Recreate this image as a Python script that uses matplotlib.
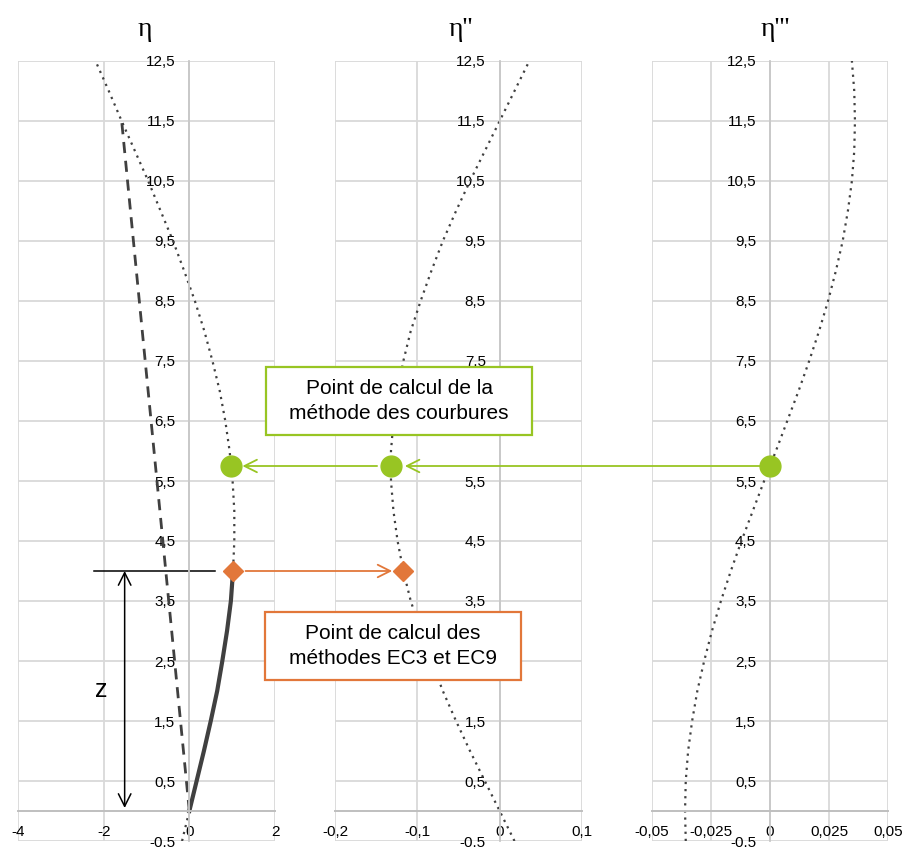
import matplotlib.pyplot as plt
from matplotlib.patches import ConnectionPatch, Rectangle

# values
z = [-0.5, 0, 0.5, 1, 1.5, 2, 2.5, 3, 3.5, 4, 4.5, 5, 5.5, 6, 6.5,
     7, 7.5, 8, 8.5, 9, 9.5, 10, 10.5, 11, 11.5, 12, 12.5]
eta = [-0.17, 0, 0.17, 0.34, 0.50, 0.65, 0.77, 0.88, 0.97, 1.02, 1.05, 1.05, 1.01, 0.94, 0.84,
       0.71, 0.54, 0.35, 0.13, -0.12, -0.38, -0.67, -0.96, -1.27, -1.58, -1.88, -2.19]
eta2 = [0.018, 0, -0.018, -0.036, -0.053, -0.069, -0.083, -0.096, -0.108, -0.117, -0.124, -0.129, -0.132, -0.132, -0.129,
        -0.124, -0.117, -0.108, -0.096, -0.083, -0.069, -0.053, -0.036, -0.018, 0, 0.018, 0.036]
eta3 = [-0.0357, -0.036, -0.0357, -0.0347, -0.0330, -0.0308, -0.0279, -0.0246, -0.0208, -0.0166, -0.0121, -0.0073, -0.0025, 0.0025, 0.0073,
        0.0121, 0.0166, 0.0208, 0.0246, 0.0279, 0.0308, 0.0330, 0.0347, 0.0357, 0.036, 0.0357, 0.0347]

# solid part (0 -> 4) and chord line
solid_z = [0, 0.5, 1, 1.5, 2, 2.5, 3, 3.5, 4]
solid_eta = [0, 0.17, 0.34, 0.50, 0.65, 0.77, 0.88, 0.97, 1.02]
chord_z = [0, 11.5]
chord_eta = [0, -1.58]

# calculation points
z_curv = 5.75
curv_pts = [0.98, -0.132, 0.0]
z_ec = 4.0
ec_pts = [1.02, -0.117]

yticks = [-0.5 + i for i in range(14)]
ylabels = [("%g" % v).replace(".", ",") for v in yticks]

xticks = [[-4, -2, 0, 2], [-0.2, -0.1, 0, 0.1], [-0.05, -0.025, 0, 0.025, 0.05]]
xlabels = [["-4", "-2", "0", "2"], ["-0,2", "-0,1", "0", "0,1"],
           ["-0,05", "-0,025", "0", "0,025", "0,05"]]
titles = ["η", "η''", "η'''"]

W, H = 906, 847
fig = plt.figure(figsize=(W / 100, H / 100), dpi=100)
plt.rcParams['font.family'] = ['Liberation Sans', 'DejaVu Sans']

# axes rectangles in pixels: left, right
boxes = [(18, 275), (335, 582), (652, 888)]
top_px, bot_px = 61, 841
axes = []
for (l, r), xt, xl in zip(boxes, xticks, xlabels):
    ax = fig.add_axes([l / W, (H - bot_px) / H, (r - l) / W, (bot_px - top_px) / H])
    ax.set_facecolor('none')
    ax.set_xlim(xt[0], xt[-1])
    ax.set_ylim(-0.5, 12.5)
    ax.set_xticks(xt)
    ax.set_xticklabels(xl)
    ax.set_yticks(yticks)
    ax.set_yticklabels(ylabels)
    ax.grid(True, color='#D9D9D9', lw=1.3)
    ax.set_axisbelow(True)
    for s in ['top', 'right']:
        ax.spines[s].set_visible(False)
    ax.spines['left'].set_position(('data', 0))
    ax.spines['bottom'].set_position(('data', 0))
    ax.spines['left'].set_color('#C8C8C8')
    ax.spines['bottom'].set_color('#BFBFBF')
    ax.spines['left'].set_linewidth(1.3)
    ax.spines['bottom'].set_linewidth(1.4)
    ax.tick_params(length=0, labelsize=11, colors='black')
    ax.tick_params(axis='y', pad=10)
    ax.tick_params(axis='x', pad=10)
    axes.append(ax)

ax1, ax2, ax3 = axes
dot = (0, (1, 2.2))
ax1.plot(eta, z, color='#404040', lw=1.6, ls=dot)
ax1.plot(chord_eta, chord_z, color='#404040', lw=2, ls=(0, (4, 2.8)))
ax1.plot(solid_eta, solid_z, color='#404040', lw=3)
ax2.plot(eta2, z, color='#404040', lw=1.6, ls=dot)
ax3.plot(eta3, z, color='#404040', lw=1.6, ls=dot)

green = '#98C523'
orange = '#E2773A'
for ax, x in zip(axes, curv_pts):
    ax.plot([x], [z_curv], 'o', color=green, ms=15, zorder=5, clip_on=False)
for ax, x in zip(axes, ec_pts):
    ax.plot([x], [z_ec], 'D', color=orange, ms=10, zorder=5, clip_on=False)

# arrows between panels
arrows = [
    (ax3, curv_pts[2], ax2, curv_pts[1], z_curv, green, 0, 10),
    (ax2, curv_pts[1], ax1, curv_pts[0], z_curv, green, 10, 8),
    (ax1, ec_pts[0], ax2, ec_pts[1], z_ec, orange, 9, 8),
]
for axA, xA, axB, xB, zz, col, sa, sb in arrows:
    cp = ConnectionPatch((xA, zz), (xB, zz), coordsA=axA.transData, coordsB=axB.transData,
                         arrowstyle='->,head_length=0.9,head_width=0.45', color=col, lw=1.3,
                         shrinkA=sa, shrinkB=sb, zorder=4)
    fig.add_artist(cp)

# z dimension
ax1.plot([-2.23, 0.6], [4, 4], color='black', lw=1.1, clip_on=False)
ax1.annotate('', xy=(-1.51, 0.05), xytext=(-1.51, 4),
             arrowprops=dict(arrowstyle='<->,head_length=0.9,head_width=0.45', color='black', lw=1.1,
                             shrinkA=0, shrinkB=0))
ax1.text(-2.05, 2.02, 'z', fontsize=18, ha='center', va='center')

# titles
for (l, r), t, xc in zip(boxes, titles, [145, 461, 775]):
    fig.text(xc / W, 1 - 30 / H, t, fontsize=20, family=['Liberation Serif', 'DejaVu Serif'],
             ha='center', va='center')

# text boxes
def box(x0, y0, x1, y1, col, txt):
    fig.add_artist(Rectangle((x0 / W, 1 - y1 / H), (x1 - x0) / W, (y1 - y0) / H,
                             transform=fig.transFigure, facecolor='white', edgecolor=col,
                             lw=1.6, zorder=6))
    fig.text((x0 + x1) / 2 / W, 1 - (y0 + y1) / 2 / H, txt, ha='center', va='center',
             fontsize=15, linespacing=1.35, zorder=7)

box(266, 367, 532, 435, green, "Point de calcul de la\nméthode des courbures")
box(265, 612, 521, 680, orange, "Point de calcul des\nméthodes EC3 et EC9")

fig.savefig('out.png', dpi=100)
